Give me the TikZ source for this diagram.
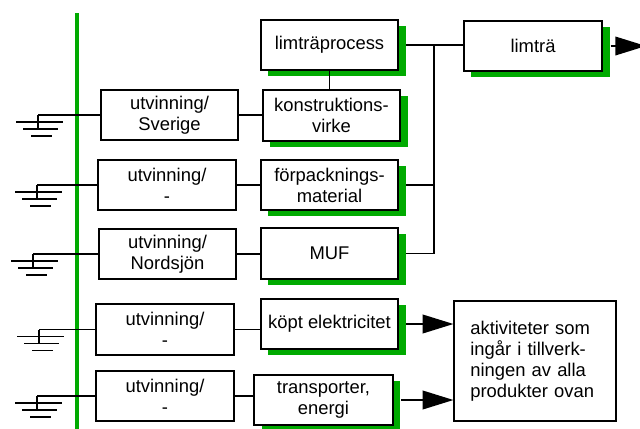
\documentclass[tikz,border=0pt]{standalone}
\usepackage{fontspec}
\setmainfont{Liberation Sans}
\usetikzlibrary{arrows.meta, positioning, shadows}

\definecolor{leafgreen}{RGB}{0,170,0}

\tikzset{
  box/.style={draw, line width=1.4pt, fill=white, align=center, inner sep=1pt,
    minimum width=103pt, minimum height=38pt, font=\fontsize{13.8}{15.75}\selectfont},
  greenbox/.style={box, drop shadow={shadow xshift=5.5pt, shadow yshift=-4.5pt,
    fill=leafgreen, opacity=1}},
  link/.style={line width=1.1pt},
  bigarrow/.style={link, -{Triangle[length=23pt,width=14pt]}},
  ground/.pic={
    \draw[link] (0,0) -- (0,14);
    \draw[link] (-22,7) -- (25,7);
    \draw[link] (-15,14) -- (20,14);
    \draw[link] (-7,21) -- (14,21);
  }
}

\begin{document}
\begin{tikzpicture}[x=0.75pt, y=-0.75pt]
    \useasboundingbox (0,0) rectangle (640,429);

    % Green boundary line
    \draw[leafgreen, line width=3pt] (77,13) -- (77,429);

    % Extraction boxes
    \node[box] (sv) at (169.5,115) {utvinning/\\Sverige};
    \node[box] (fu) at (167,185) {utvinning/\\-};
    \node[box] (no) at (167.5,254) {utvinning/\\Nordsjön};
    \node[box] (eu) at (165,329.5) {utvinning/\\-};
    \node[box] (tu) at (165,396) {utvinning/\\-};

    % Material and process boxes
    \node[greenbox] (lp) at (329.5,45) {limträprocess};
    \node[greenbox] (kv) at (331.5,115.5) {konstruktions-\\virke};
    \node[greenbox] (fp) at (329.5,185) {förpacknings-\\material};
    \node[greenbox] (muf) at (329.5,253.5) {MUF};
    \node[greenbox] (ke) at (329.5,324) {köpt elektricitet};
    \node[greenbox, minimum width=104pt] (te) at (323.5,400) {transporter,\\energi};

    % Product and shared activities
    \node[box, minimum width=120.5pt, minimum height=90.5pt, align=left,
      text width=97pt, inner xsep=12pt] (ak) at (535,361)
      {aktiviteter som\\ingår i tillverk-\\ningen av alla\\produkter ovan};
    \node[greenbox, minimum width=104pt] (lt) at (533,46) {limträ};

    % Ground symbols on the left
    \foreach \n/\gx in {sv/38, fu/37, no/33, eu/39, tu/37} {
      \draw[link] (\n.west) -- (\n.west -| \gx,0) coordinate (g\n);
      \pic at (g\n) {ground};
    }

    % Extraction to materials
    \draw[link] (sv.east) -- (sv.east -| kv.west);
    \draw[link] (fu.east) -- (fu.east -| fp.west);
    \draw[link] (no.east) -- (no.east -| muf.west);
    \draw[link] (eu.east) -- (eu.east -| ke.west);
    \draw[link] (tu.east) -- (tu.east -| te.west);

    % Collecting line towards the product
    \coordinate (bus) at (434,45);
    \draw[link] (lp.south) -- (lp.south |- kv.north);
    \draw[link] ([xshift=5.5pt]lp.east) -- (lp.east -| lt.west);
    \draw[link] (lp.east -| bus) -- (muf.east -| bus);
    \draw[link] ([xshift=5.5pt]fp.east) -- (fp.east -| bus);
    \draw[link] ([xshift=5.5pt]muf.east) -- (muf.east -| bus);

    % Arrows
    \coordinate (out) at (646,46);
    \draw[bigarrow] ([xshift=5.5pt]lt.east) -- (lt.east -| out);
    \draw[bigarrow] ([xshift=5.5pt]ke.east) -- (ke.east -| ak.west);
    \draw[bigarrow] ([xshift=5.5pt]te.east) -- (te.east -| ak.west);
\end{tikzpicture}
\end{document}
